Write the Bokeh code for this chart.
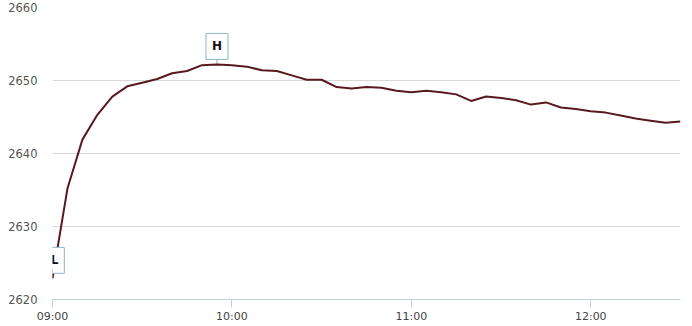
import math
import pandas as pd
from bokeh.plotting import figure
from bokeh.models import FixedTicker, DatetimeTickFormatter, Range1d, Label
from bokeh.embed import file_html
from bokeh.resources import INLINE

times = ["09:00", "09:05", "09:10", "09:15", "09:20", "09:25", "09:30", "09:35", "09:40", "09:45",
         "09:50", "09:55", "10:00", "10:05", "10:10", "10:15", "10:20", "10:25", "10:30", "10:35",
         "10:40", "10:45", "10:50", "10:55", "11:00", "11:05", "11:10", "11:15", "11:20", "11:25",
         "11:30", "11:35", "11:40", "11:45", "11:50", "11:55", "12:00", "12:05", "12:10", "12:15",
         "12:20", "12:25", "12:30"]
values = [2622.9, 2635.2, 2641.9, 2645.3, 2647.8, 2649.2, 2649.7, 2650.2, 2651.0, 2651.3,
          2652.1, 2652.2, 2652.1, 2651.9, 2651.4, 2651.3, 2650.7, 2650.1, 2650.1, 2649.1,
          2648.9, 2649.1, 2649.0, 2648.6, 2648.4, 2648.6, 2648.4, 2648.1, 2647.2, 2647.8,
          2647.6, 2647.3, 2646.7, 2647.0, 2646.3, 2646.1, 2645.8, 2645.6, 2645.2, 2644.8,
          2644.5, 2644.2, 2644.4]
x_ticks = ["09:00", "10:00", "11:00", "12:00"]
y_ticks = [2620, 2630, 2640, 2650, 2660]

day = "2024-01-02 "
t = pd.to_datetime([day + s for s in times])
tick_ms = [pd.Timestamp(day + s).value / 1e6 for s in x_ticks]

p = figure(width=692, height=326, x_axis_type="datetime", output_backend="svg",
           toolbar_location=None, min_border_left=52, min_border_right=12,
           min_border_top=7, min_border_bottom=27)
p.x_range = Range1d(t[0], t[-1])
p.y_range = Range1d(y_ticks[0], y_ticks[-1])
p.outline_line_color = None
p.background_fill_color = "white"
p.border_fill_color = "white"

p.xgrid.grid_line_color = None
p.ygrid.grid_line_color = "#d8d8d8"
p.ygrid.ticker = FixedTicker(ticks=y_ticks)

yax = p.yaxis[0]
yax.ticker = FixedTicker(ticks=y_ticks)
yax.axis_line_color = None
yax.major_tick_line_color = None
yax.minor_tick_line_color = None
yax.major_label_standoff = 9
yax.major_label_text_font = "DejaVu Sans"
yax.major_label_text_font_size = "11.5px"
yax.major_label_text_color = "#555555"

xax = p.xaxis[0]
xax.ticker = FixedTicker(ticks=tick_ms)
xax.formatter = DatetimeTickFormatter(hours="%H:%M", minutes="%H:%M", days="%H:%M")
xax.axis_line_color = "#c0d0e0"
xax.major_tick_line_color = "#c0d0e0"
xax.major_tick_in = 0
xax.major_tick_out = 8
xax.minor_tick_line_color = None
xax.major_label_standoff = 2
xax.major_label_text_font = "DejaVu Sans"
xax.major_label_text_font_size = "11px"
xax.major_label_text_color = "#444444"

# high / low markers
hi_i = max(range(len(values)), key=lambda i: values[i])
lo_i = min(range(len(values)), key=lambda i: values[i])
for i in (hi_i, lo_i):
    p.ray(x=[t[i]], y=[values[i]], length=10, length_units="screen", angle=math.pi / 2,
          line_color="#8fb3cc", line_width=1)

p.line(t, values, line_color="#5a1820", line_width=2)

for i, txt, dx in ((hi_i, "H", 0), (lo_i, "L", 2)):
    lab = Label(x=t[i], y=values[i], text=txt, x_offset=dx, y_offset=18,
                text_align="center", text_baseline="middle",
                text_font="DejaVu Sans", text_font_size="12px", text_font_style="bold",
                text_color="#111111", background_fill_color="white",
                border_line_color="#8fb3cc", border_line_width=1, padding=6)
    p.add_layout(lab)

open("out.html", "w").write(file_html(p, INLINE))
